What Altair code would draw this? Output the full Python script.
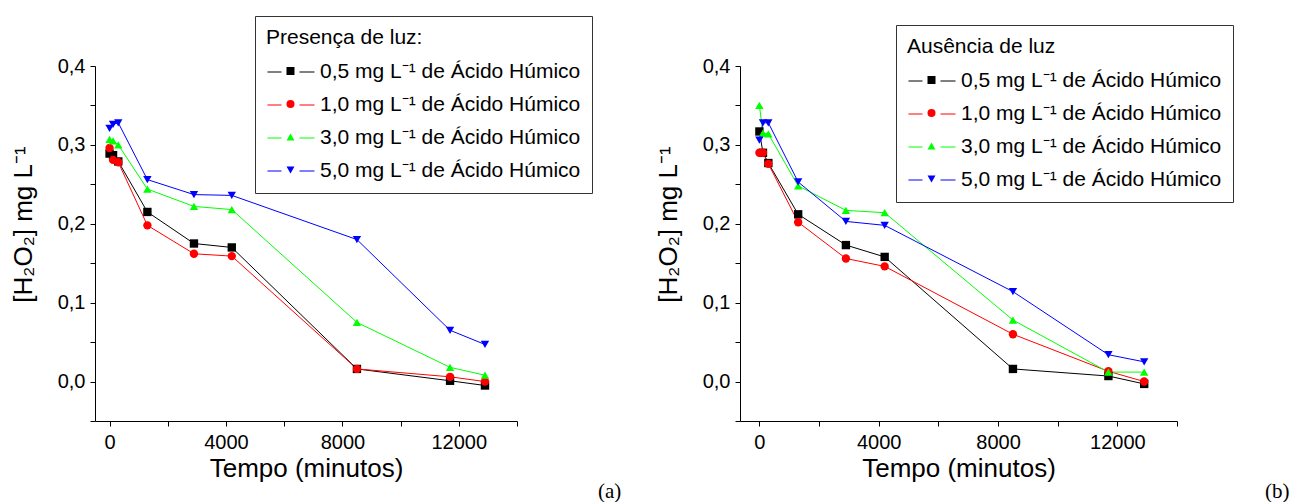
import altair as alt
import pandas as pd

# ---- data ----
tempo = [0, 120, 300, 1300, 2900, 4200, 8500, 11700, 12900]
series = [
    "0,5 mg L⁻¹ de Ácido Húmico",
    "1,0 mg L⁻¹ de Ácido Húmico",
    "3,0 mg L⁻¹ de Ácido Húmico",
    "5,0 mg L⁻¹ de Ácido Húmico",
]
colors = ["#000000", "#ff0000", "#00ff00", "#0000ff"]

# (a) Presença de luz
luz_05 = [0.289, 0.287, 0.279, 0.215, 0.175, 0.170, 0.016, 0.001, -0.005]
luz_10 = [0.296, 0.281, 0.278, 0.198, 0.162, 0.159, 0.016, 0.006, 0.000]
luz_30 = [0.307, 0.305, 0.300, 0.244, 0.222, 0.218, 0.075, 0.018, 0.008]
luz_50 = [0.321, 0.326, 0.328, 0.256, 0.237, 0.236, 0.180, 0.065, 0.047]

# (b) Ausência de luz
esc_05 = [0.317, 0.290, 0.277, 0.212, 0.173, 0.158, 0.016, 0.007, -0.003]
esc_10 = [0.290, 0.290, 0.276, 0.202, 0.156, 0.146, 0.060, 0.013, 0.000]
esc_30 = [0.350, 0.315, 0.314, 0.248, 0.217, 0.214, 0.078, 0.012, 0.012]
esc_50 = [0.306, 0.328, 0.328, 0.253, 0.203, 0.198, 0.114, 0.034, 0.025]

x_ticks = [0, 2000, 4000, 6000, 8000, 10000, 12000, 14000]
y_ticks = [-0.05, 0.0, 0.05, 0.1, 0.15, 0.2, 0.25, 0.3, 0.35, 0.4]

FONT = "Liberation Sans"
marker_shapes = ["square", "circle", "triangle-up", "triangle-down"]
LEG_PAD = 11
CLIP_H = 22
ROW_PAD = 11
TITLE_PAD = 13
TITLE_SHIFT = 20 + TITLE_PAD  # vertical room taken by the legend title


def make_df(cols):
    rows = []
    for s, vals in zip(series, cols):
        for t, v in zip(tempo, vals):
            rows.append({"tempo": t, "h2o2": v, "serie": s})
    return pd.DataFrame(rows)


def panel(cols, leg_title, leg_x, leg_y, width, xmin, tag, tag_x):
    df = make_df(cols)
    base = alt.Chart(df)
    x = alt.X(
        "tempo:Q",
        scale=alt.Scale(domain=[xmin, 14000], nice=False, zero=False),
        axis=alt.Axis(
            values=x_ticks,
            title="Tempo (minutos)",
            titlePadding=3,
            labelPadding=6,
            labelExpr="(datum.value % 4000 == 0 && datum.value < 14000) ? format(datum.value, 'd') : ''",
        ),
    )
    y = alt.Y(
        "h2o2:Q",
        scale=alt.Scale(domain=[-0.05, 0.4], nice=False, zero=False),
        axis=alt.Axis(
            values=y_ticks,
            title="[H₂O₂] mg L⁻¹",
            titleY=158,
            titlePadding=21,
            labelPadding=5,
            labelExpr="(abs(round(datum.value*100)) % 10 == 0) ? replace(format(datum.value, '.1f'), '.', ',') : ''",
        ),
    )
    # legend of the lines: box, title, labels and line pieces
    leg_lines = alt.Legend(
        title=leg_title,
        orient="none",
        legendX=leg_x,
        legendY=leg_y,
        padding=LEG_PAD,
        strokeColor="#333333",
        titleFont=FONT,
        titleFontSize=21,
        titleFontWeight="normal",
        titleColor="black",
        titlePadding=TITLE_PAD,
        titleLimit=500,
        labelFont=FONT,
        labelFontSize=21,
        labelColor="black",
        labelLimit=500,
        labelOffset=5,
        clipHeight=CLIP_H,
        rowPadding=ROW_PAD,
        symbolType="M-0.96,0H-0.375M0.375,0H1",
        symbolSize=2304,
        symbolStrokeWidth=1,
    )
    # legend of the markers: symbols only, laid over the line pieces
    leg_marks = alt.Legend(
        title=None,
        orient="none",
        legendX=leg_x,
        legendY=leg_y + TITLE_SHIFT,
        padding=LEG_PAD,
        labelExpr="''",
        labelFontSize=21,
        clipHeight=CLIP_H,
        rowPadding=ROW_PAD,
        symbolSize=64,
        symbolStrokeWidth=0,
        symbolOffset=14,
    )
    lines = base.mark_line(strokeWidth=1).encode(
        x=x,
        y=y,
        stroke=alt.Stroke("serie:N", scale=alt.Scale(range=colors), legend=leg_lines),
    )
    points = base.mark_point(filled=True, size=70, opacity=1).encode(
        x=x,
        y=y,
        fill=alt.Fill("serie:N", scale=alt.Scale(domain=series, range=colors), legend=leg_marks),
        shape=alt.Shape("serie:N", scale=alt.Scale(domain=series, range=marker_shapes), legend=leg_marks),
    )
    tag_layer = alt.Chart(pd.DataFrame({"t": [tag]})).mark_text(
        font="Liberation Serif", fontSize=21, align="left", baseline="middle", color="black"
    ).encode(text="t:N", x=alt.value(tag_x), y=alt.value(426))
    return alt.layer(lines, points, tag_layer).properties(width=width, height=355)


left = panel([luz_05, luz_10, luz_30, luz_50], "Presença de luz:", 160, -50, 422, -500, "(a)", 503)
right = panel([esc_05, esc_10, esc_30, esc_50], "Ausência de luz", 156, -41, 437, -650, "(b)", 525)

chart = (
    alt.hconcat(left, right, spacing=223, bounds="flush")
    .resolve_scale(stroke="independent", fill="independent", shape="independent")
    .properties(padding={"left": 10, "top": 15, "right": 0, "bottom": 0})
    .configure_view(stroke=None)
    .configure_axis(
        grid=False,
        domainColor="black",
        domainWidth=1,
        tickColor="black",
        tickSize=5,
        labelFont=FONT,
        labelFontSize=20,
        labelColor="black",
        titleFont=FONT,
        titleFontSize=26,
        titleFontWeight="normal",
        titleColor="black",
    )
)

chart.save("out.html", embed_options={"renderer": "svg", "actions": False})
